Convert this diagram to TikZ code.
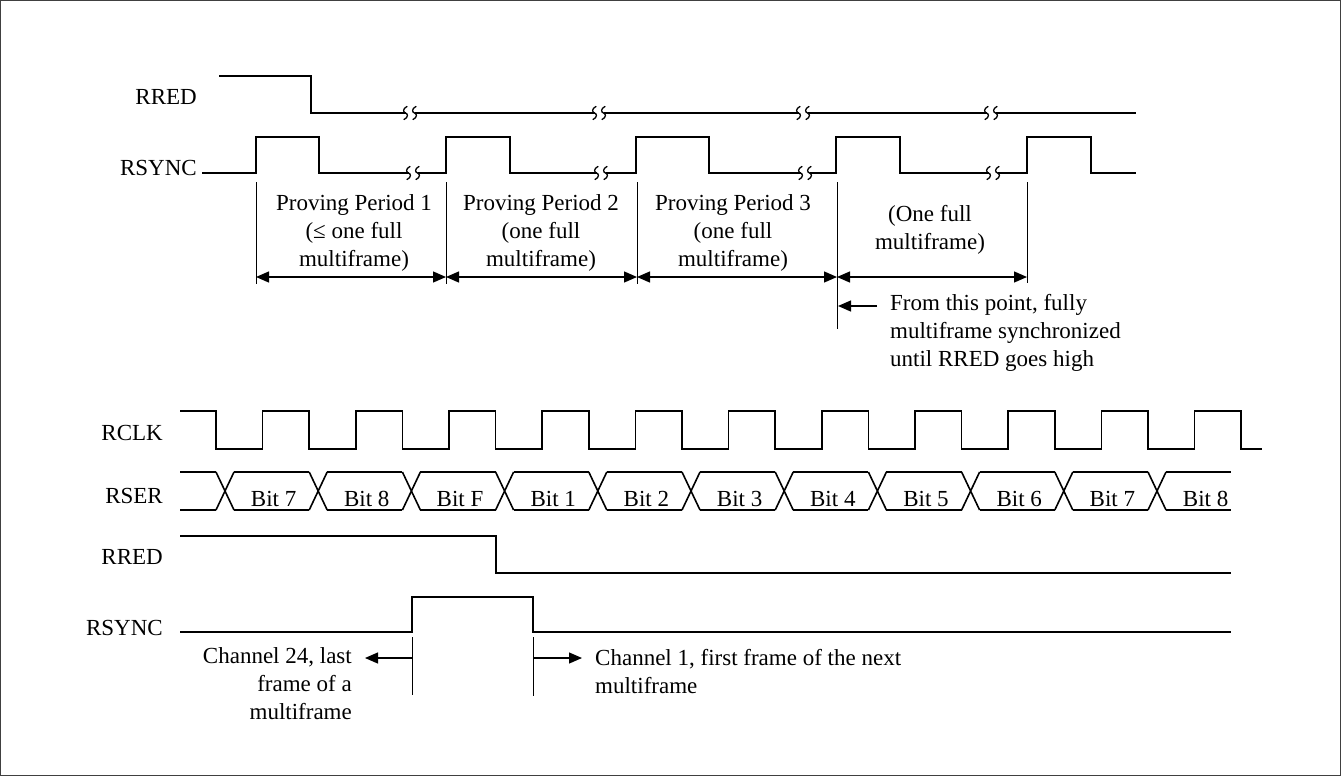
\documentclass[tikz,border=0pt]{standalone}
\usepackage{fontspec}
\setmainfont{Liberation Serif}
\usetikzlibrary{arrows.meta, positioning, calc}
\tikzset{
  wave/.style    = {line width=1.6pt, line join=miter},
  tick/.style    = {line width=1pt},
  span/.style    = {{Triangle[length=13pt,width=11pt]}-{Triangle[length=13pt,width=11pt]}, line width=1.3pt},
  pointer/.style = {-{Triangle[length=13pt,width=11pt]}, line width=1.3pt},
  sig/.style     = {anchor=base east, inner sep=0pt, font=\fontsize{23}{28}\selectfont},
  note/.style    = {inner sep=0pt, font=\fontsize{23}{28}\selectfont},
  brk/.pic       = {\draw[line width=1.3pt, line cap=round]
                     (1.5,-6.5) .. controls (-3,-4.5) and (-2.5,-0.5) .. (0,0)
                     .. controls (2.5,0.5) and (3,4.5) .. (-1.5,6.5);},
}

\begin{document}
\begin{tikzpicture}[x=1pt, y=-1pt]
  \useasboundingbox (0,0) rectangle (1341,776);
  \draw[line width=1.2pt, black!75] (0.6,0.6) rectangle (1340.4,775.4);

  % signal names
  \node[sig] (nred1)  at (197,104) {RRED};
  \node[sig] (nsync1) at (197,175) {RSYNC};
  \node[sig] (nclk)   at (163,440) {RCLK};
  \node[sig] (nser)   at (163,503) {RSER};
  \node[sig] (nred2)  at (163,564) {RRED};
  \node[sig] (nsync2) at (163,635) {RSYNC};

  % multiframe waveforms
  \draw[wave] (219,76) -| (311,113) -- (1136,113);
  \draw[wave] (202,173)
    \foreach \r/\f in {256/319, 446/510, 636/709, 836/900, 1027/1091} { -| (\r,137) -| (\f,173) }
    -- (1136,173);
  \foreach \c/\y in {410/113, 599/113, 803/113, 991/113, 413/173, 601/173, 805/173, 993/173} {
    \fill[white] (\c-4.5,\y-5) rectangle (\c+4.5,\y+5);
    \pic at (\c-4.5,\y) {brk};
    \pic at (\c+4.5,\y) {brk};
  }

  % proving periods
  \foreach \x/\n/\e in {256/1/284, 446/2/284, 637/3/284, 837/4/329, 1027/5/283} {
    \draw[tick] (\x,182) -- (\x,\e);
    \coordinate (m\n) at (\x,277);
  }
  \draw[span] (m1) -- (m2);
  \draw[span] (m2) -- (m3);
  \draw[span] (m3) -- (m4);
  \draw[span] (m4) -- (m5);
  \node[note, align=center] (pp1) at (354,233) {Proving Period 1\\(≤ one full\\multiframe)};
  \node[note, align=center] (pp2) at (541,233) {Proving Period 2\\(one full\\multiframe)};
  \node[note, align=center] (pp3) at (733,233) {Proving Period 3\\(one full\\multiframe)};
  \node[note, align=center] (pp4) at (930,230) {(One full\\multiframe)};
  \coordinate (s0) at (877,306);
  \coordinate (s1) at (838,306);
  \draw[pointer] (s0) -- (s1);
  \node[note, align=left, anchor=west] (sync) at (890,333) {From this point, fully\\multiframe synchronized\\until RRED goes high};

  % frame waveforms
  \draw[wave] (180,411) -- (216,411)
    \foreach \k in {0,...,10} { -- ++(0,38) -- ++(46.6,0) -- ++(0,-38) -- ++(46.6,0) }
    -- ++(0,38) -- ++(21,0);
  \draw[wave] (180,472) -- (216,472) (180,510) -- (216,510);
  \foreach \k/\b in {0/7, 1/8, 2/F, 3/1, 4/2, 5/3, 6/4, 7/5, 8/6, 9/7, 10/8} {
    \pgfmathsetmacro\c{225+93.2*\k}
    \pgfmathsetmacro\e{min(\c+84.2,1231)}
    \draw[wave] (\c-9,472) -- (\c+9,510) (\c-9,510) -- (\c+9,472);
    \draw[wave] (\c+9,472) -- (\e,472) (\c+9,510) -- (\e,510);
    \node[note, anchor=base] (bit\k) at (\c+48.6,506) {Bit \b};
  }
  \draw[wave] (180,536) -| (496,573) -- (1231,573);
  \draw[wave] (180,632) -| (412,597) -| (533,632) -- (1231,632);

  % channel markers
  \draw[tick] (412,637) -- (412,695);
  \draw[tick] (533,637) -- (533,696);
  \coordinate (q1) at (412,658);
  \coordinate (q2) at (365,658);
  \coordinate (q3) at (533,658);
  \coordinate (q4) at (582,658);
  \draw[pointer] (q1) -- (q2);
  \draw[pointer] (q3) -- (q4);
  \node[note, align=right, anchor=east] (ch24) at (352,684) {Channel 24, last\\frame of a\\multiframe};
  \node[note, align=left, anchor=west] (ch1) at (595,672) {Channel 1, first frame of the next\\multiframe};
\end{tikzpicture}
\end{document}
